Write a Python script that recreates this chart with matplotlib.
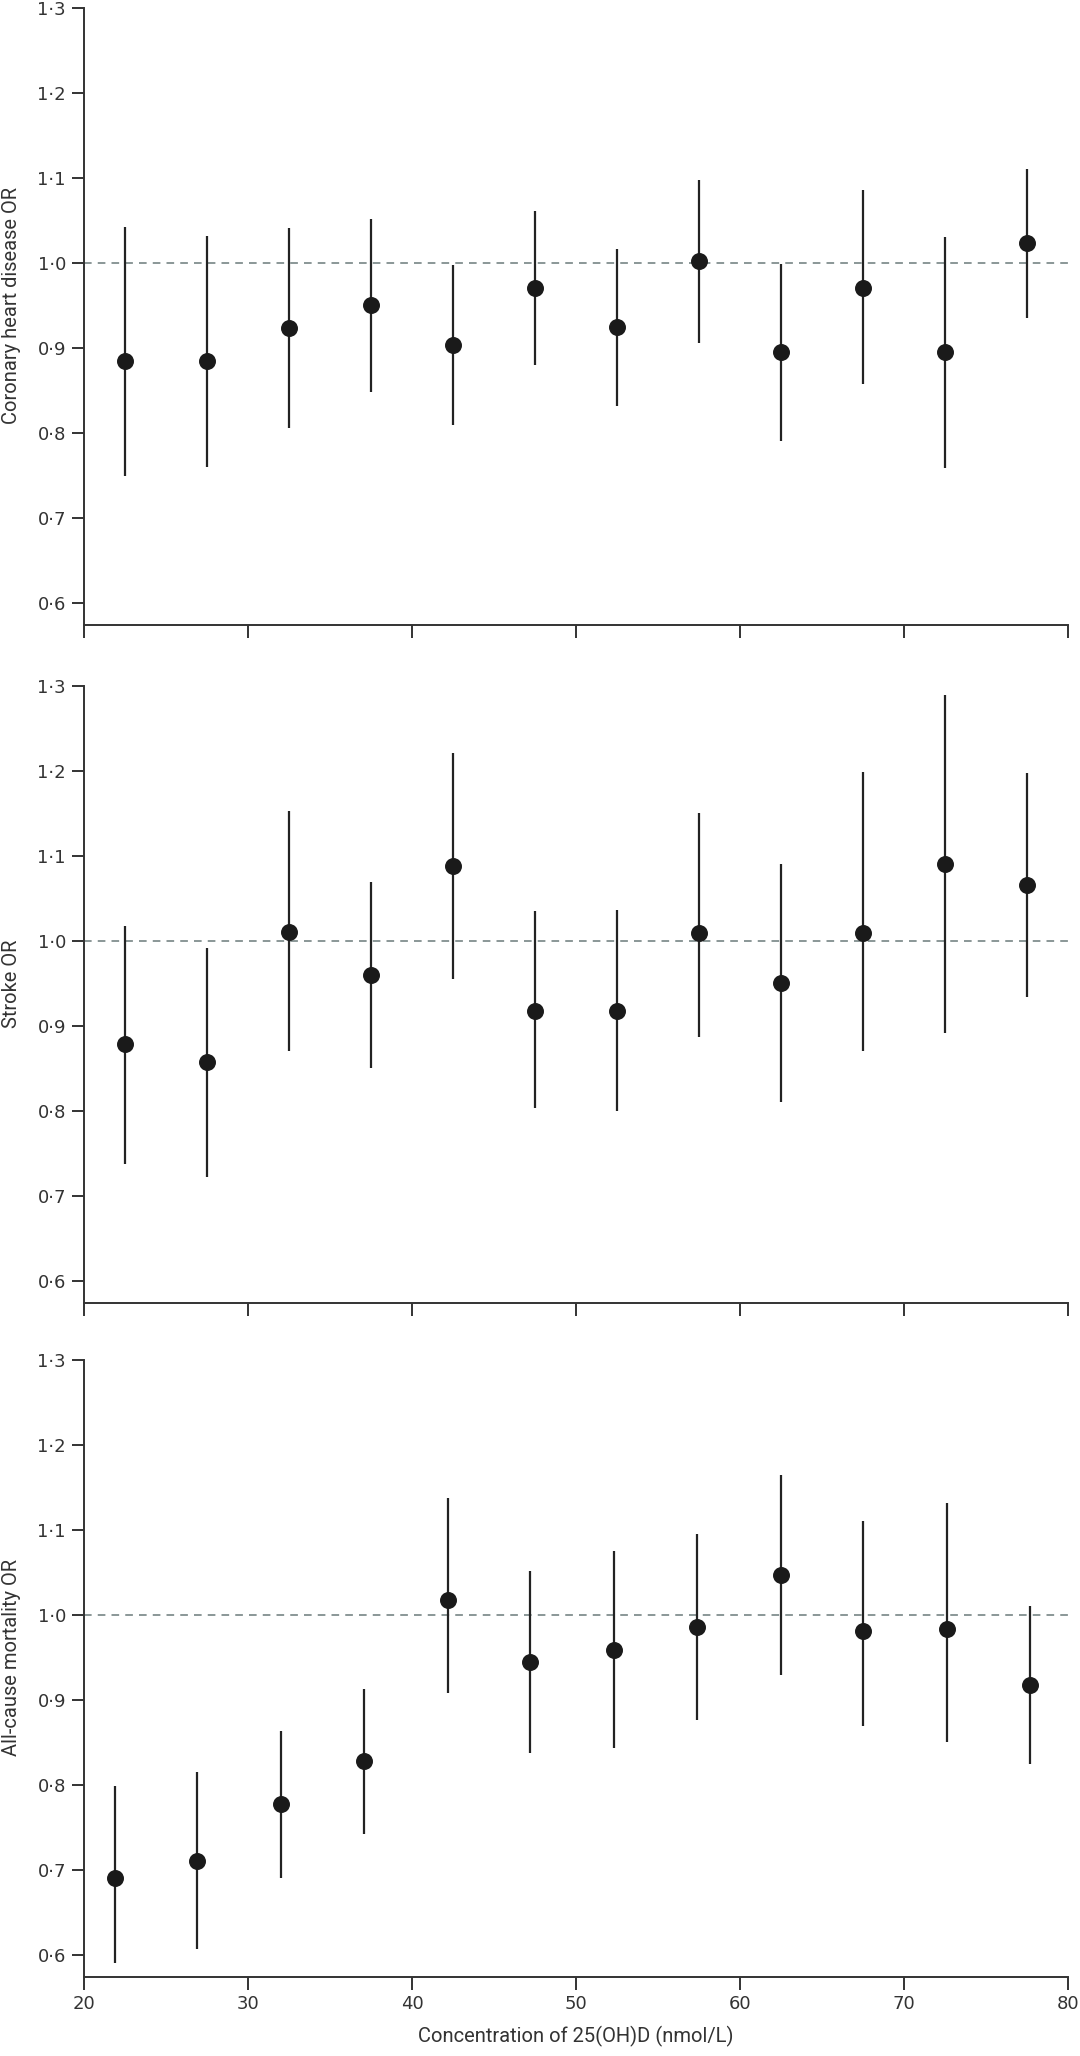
import matplotlib
matplotlib.use("Agg")
import matplotlib.pyplot as plt
from matplotlib.ticker import FuncFormatter

# concentração de 25(OH)D (nmol/L)
x_top = [22.5, 27.5, 32.5, 37.5, 42.5, 47.5, 52.5, 57.5, 62.5, 67.5, 72.5, 77.5]
x_mort = [21.9, 26.9, 32.0, 37.1, 42.2, 47.2, 52.3, 57.4, 62.5, 67.5, 72.6, 77.7]

# doença coronária
chd_or = [0.884, 0.885, 0.923, 0.950, 0.903, 0.970, 0.924, 1.002, 0.895, 0.971, 0.895, 1.023]
chd_lo = [0.749, 0.760, 0.806, 0.848, 0.809, 0.880, 0.832, 0.906, 0.791, 0.857, 0.759, 0.935]
chd_hi = [1.042, 1.032, 1.041, 1.052, 0.997, 1.061, 1.016, 1.098, 0.999, 1.086, 1.031, 1.110]

# AVC
stroke_or = [0.879, 0.857, 1.011, 0.960, 1.088, 0.918, 0.918, 1.009, 0.951, 1.009, 1.091, 1.066]
stroke_lo = [0.738, 0.722, 0.870, 0.851, 0.955, 0.803, 0.800, 0.887, 0.810, 0.870, 0.892, 0.934]
stroke_hi = [1.018, 0.992, 1.153, 1.069, 1.221, 1.035, 1.036, 1.151, 1.091, 1.199, 1.289, 1.197]

# mortalidade
mort_or = [0.691, 0.710, 0.777, 0.828, 1.018, 0.944, 0.959, 0.986, 1.047, 0.981, 0.983, 0.917]
mort_lo = [0.591, 0.607, 0.691, 0.742, 0.908, 0.837, 0.843, 0.876, 0.929, 0.869, 0.851, 0.825]
mort_hi = [0.799, 0.815, 0.863, 0.913, 1.137, 1.052, 1.075, 1.095, 1.165, 1.110, 1.132, 1.010]

y_ticks = [0.6, 0.7, 0.8, 0.9, 1.0, 1.1, 1.2, 1.3]
x_ticks = [20, 30, 40, 50, 60, 70, 80]

panels = [
    ("Coronary heart disease OR", x_top, chd_or, chd_lo, chd_hi),
    ("Stroke OR", x_top, stroke_or, stroke_lo, stroke_hi),
    ("All-cause mortality OR", x_mort, mort_or, mort_lo, mort_hi),
]

txt = "#333333"
plt.rcParams['font.family'] = ['DejaVu Sans']
label_font = ['Roboto', 'DejaVu Sans']  # rótulos dos eixos um pouco mais estreitos

fig = plt.figure(figsize=(10.8, 20.56), dpi=100)
bottoms = [0.6960, 0.3662, 0.0384]
height = 0.3002

for i, (label, xs, ors, lo, hi) in enumerate(panels):
    ax = fig.add_axes([0.0778, bottoms[i], 0.9111, height])

    # linha de referência OR = 1
    ax.axhline(1.0, color="#6b7a7a", lw=1.1, linestyle=(0, (5, 4)), zorder=1)

    for x, o, l, h in zip(xs, ors, lo, hi):
        ax.plot([x, x], [l, h], color="#222222", lw=1.6, solid_capstyle="butt", zorder=2)
    ax.plot(xs, ors, "o", color="#1a1a1a", markersize=11.2, zorder=3)

    ax.set_xlim(20, 80)
    ax.set_ylim(0.574, 1.3)
    ax.set_yticks(y_ticks)
    ax.set_xticks(x_ticks)
    ax.yaxis.set_major_formatter(FuncFormatter(lambda v, p: f"{v:.1f}".replace(".", "·")))

    for s in ["top", "right"]:
        ax.spines[s].set_visible(False)
    for s in ["left", "bottom"]:
        ax.spines[s].set_linewidth(1.4)
        ax.spines[s].set_color("#333333")

    ax.tick_params(axis="both", width=1.4, length=9, color="#333333",
                   labelsize=13, labelcolor=txt, pad=4)
    ax.set_ylabel(label, fontsize=14.5, color=txt, family=label_font)
    ax.yaxis.set_label_coords(-0.064, 0.518)

    if i < 2:
        ax.set_xticklabels([])
    else:
        ax.set_xticklabels([str(t) for t in x_ticks])
        ax.set_xlabel("Concentration of 25(OH)D (nmol/L)", fontsize=14.5, color=txt,
                      family=label_font, labelpad=9)

fig.savefig("out.png", dpi=100)
